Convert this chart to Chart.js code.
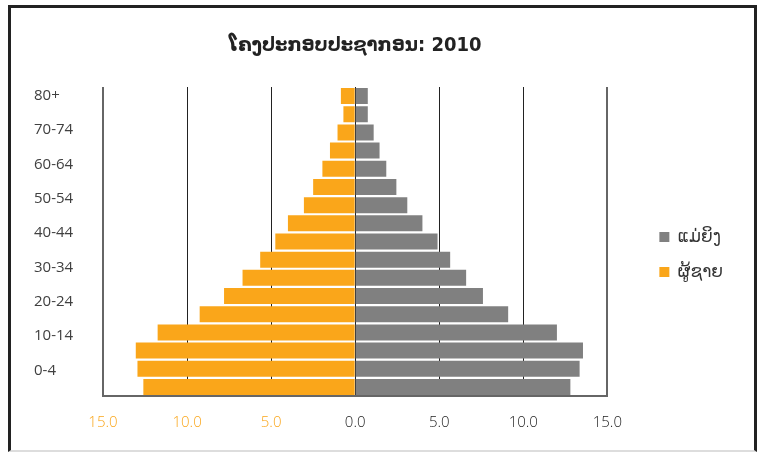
<!DOCTYPE html>
<html>
<head>
<meta charset="utf-8">
<script src="https://cdn.jsdelivr.net/npm/chart.js@4"></script>
<style>
  html, body { margin: 0; padding: 0; background: #fff; }
  .frame {
    position: absolute;
    left: 8px;
    top: 5px;
    width: 743px;
    height: 442px;
    border-left: 3px solid #222;
    border-top: 3px solid #222;
    border-right: 3px solid #222;
    border-bottom: 2px solid #ddd;
  }
</style>
</head>
<body>
<div class="frame">
  <canvas id="pyramidChart"></canvas>
</div>
<script>
// Age groups, top row first
const ageGroups = ['80+', '75-79', '70-74', '65-69', '60-64', '55-59', '50-54', '45-49',
    '40-44', '35-39', '30-34', '25-29', '20-24', '15-19', '10-14', '5-9', '0-4'];

// Labels shown on the left axis (the original axis has one more slot than there are bars)
const axisLabels = ['80+', '', '70-74', '', '60-64', '', '50-54', '', '40-44', '',
    '30-34', '', '20-24', '', '10-14', '', '0-4', ''];

// Percent of population
const female = [0.75, 0.75, 1.1, 1.45, 1.85, 2.45, 3.1, 4.0, 4.9, 5.65, 6.6, 7.6, 9.1, 12.0, 13.55, 13.35, 12.8];
const male = [0.85, 0.7, 1.05, 1.5, 1.95, 2.5, 3.05, 4.0, 4.75, 5.65, 6.7, 7.8, 9.25, 11.75, 13.05, 12.95, 12.6];

const xTicks = [-15, -10, -5, 0, 5, 10, 15];

const ORANGE = '#FAA61A';
const GREY = '#808080';

const ctx = document.getElementById('pyramidChart');

new Chart(ctx, {
    type: 'bar',
    data: {
        labels: ageGroups,
        datasets: [{
            label: 'ແມ່ຍິງ',
            data: female,
            backgroundColor: GREY,
            categoryPercentage: 1,
            barPercentage: 0.88
        }, {
            label: 'ຜູ້ຊາຍ',
            data: male.map(v => -v),
            backgroundColor: ORANGE,
            categoryPercentage: 1,
            barPercentage: 0.88
        }]
    },
    options: {
        indexAxis: 'y',
        responsive: true,
        maintainAspectRatio: false,
        animation: false,
        layout: {
            padding: { left: 23, right: 21, top: 0, bottom: 0 }
        },
        plugins: {
            title: {
                display: true,
                fullSize: false,
                text: 'ໂຄງປະກອບປະຊາກອນ: 2010',
                color: '#222',
                font: { family: "'DejaVu Sans Condensed', 'DejaVu Sans'", size: 20, weight: 'bold' },
                padding: { top: 26, bottom: 29 }
            },
            legend: {
                position: 'right',
                fullSize: false,
                title: {
                    display: true,
                    text: '',
                    font: { size: 10 },
                    padding: { top: 14, bottom: 0 }
                },
                labels: {
                    boxWidth: 10,
                    boxHeight: 10,
                    padding: 18,
                    color: '#333',
                    font: { family: "'Noto Sans', 'DejaVu Sans'", size: 17 }
                }
            },
            tooltip: { enabled: false }
        },
        scales: {
            x: {
                stacked: true,
                min: -15,
                max: 15,
                afterBuildTicks: axis => {
                    axis.ticks = xTicks.map(v => ({ value: v }));
                },
                afterFit: axis => { axis.height = 54; },
                grid: {
                    drawTicks: false,
                    color: c => Math.abs(c.tick.value) === 15 ? '#666' : '#222',
                    lineWidth: c => Math.abs(c.tick.value) === 15 ? 2 : 1
                },
                border: { display: true, color: '#666', width: 2 },
                ticks: {
                    padding: 18,
                    font: { family: "'Open Sans'", size: 15, weight: 300 },
                    color: c => c.tick.value < 0 ? ORANGE : '#222',
                    callback: value => Math.abs(value).toFixed(1)
                }
            },
            y: {
                stacked: true,
                display: false
            },
            ageAxis: {
                type: 'category',
                position: 'left',
                labels: axisLabels,
                offset: true,
                afterFit: axis => { axis.width = 69; },
                grid: { display: false },
                border: { display: false },
                ticks: {
                    autoSkip: false,
                    crossAlign: 'far',
                    color: '#404040',
                    font: { family: "'Open Sans'", size: 15 }
                }
            },
            gap: {
                type: 'category',
                position: 'right',
                labels: ageGroups,
                afterFit: axis => { axis.width = 34; },
                grid: { display: false },
                border: { display: false },
                ticks: { display: false }
            }
        }
    }
});
</script>
</body>
</html>
